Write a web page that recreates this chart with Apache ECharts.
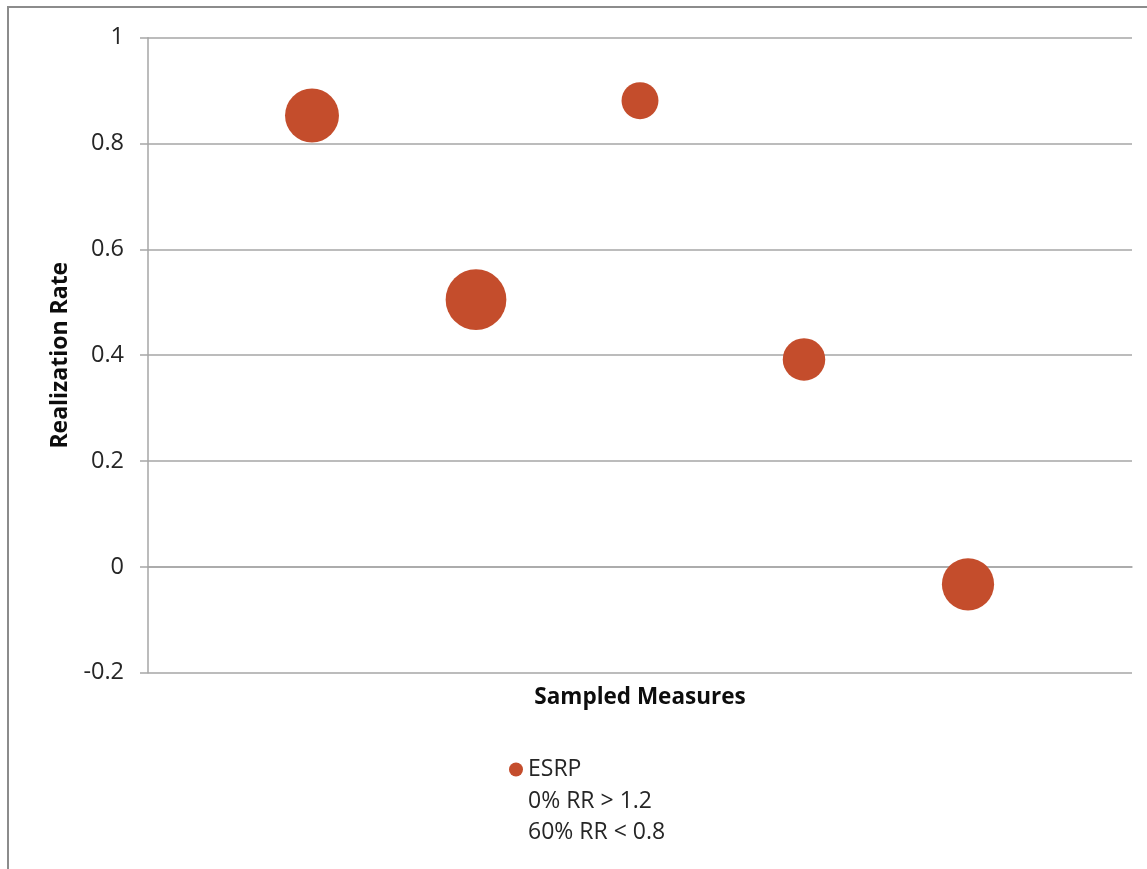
<!DOCTYPE html>
<html>
<head>
<meta charset="utf-8">
<script src="https://cdn.jsdelivr.net/npm/echarts@6/dist/echarts.min.js"></script>
<style>
html,body{margin:0;padding:0;background:#fff;}
#chart{width:1147px;height:869px;}
</style>
</head>
<body>
<div id="chart"></div>
<script>
// Data
const measureIndex = [1, 2, 3, 4, 5];
const realizationRate = [0.853, 0.505, 0.881, 0.392, -0.033];
const bubbleWeight = [0.79, 1.0, 0.37, 0.49, 0.74];
const seriesName = 'ESRP';
const legendNotes = ['0% RR > 1.2', '60% RR < 0.8'];
const yTicks = { min: -0.2, max: 1, interval: 0.2 };

const FONT = '"Open Sans", "Liberation Sans", sans-serif';
const chart = echarts.init(document.getElementById('chart'), null, { renderer: 'canvas' });

const bubbleData = measureIndex.map((x, i) => [x, realizationRate[i], bubbleWeight[i]]);

const option = {
  backgroundColor: '#ffffff',
  animation: false,
  graphic: [{
    type: 'rect',
    shape: { x: 8, y: 7, width: 1200, height: 900 },
    style: { fill: 'none', stroke: '#8c8c8c', lineWidth: 2 },
    silent: true
  }],
  grid: { left: 148, right: 15, top: 37.7, bottom: 196.3, containLabel: false },
  legend: {
    orient: 'vertical',
    left: 504,
    top: 751,
    itemWidth: 14,
    itemHeight: 14,
    itemGap: 4.5,
    selectedMode: false,
    data: [
      { name: seriesName, icon: 'circle' },
      { name: legendNotes[0], icon: 'none' },
      { name: legendNotes[1], icon: 'none' }
    ],
    textStyle: { fontFamily: FONT, fontSize: 23, color: '#262626', lineHeight: 27 }
  },
  xAxis: {
    type: 'value',
    min: 0,
    max: 6,
    interval: 1,
    name: 'Sampled Measures',
    nameLocation: 'middle',
    nameGap: 13,
    nameTextStyle: { fontFamily: FONT, fontSize: 22.5, fontWeight: 'bold', color: '#0d0d0d', verticalAlign: 'top' },
    axisLine: { show: true, lineStyle: { color: '#a6a6a6', width: 1.5 } },
    axisTick: { show: false },
    axisLabel: { show: false },
    splitLine: { show: false }
  },
  yAxis: {
    type: 'value',
    min: yTicks.min,
    max: yTicks.max,
    interval: yTicks.interval,
    name: 'Realization Rate',
    nameLocation: 'middle',
    nameGap: 76,
    nameRotate: 90,
    nameTextStyle: { fontFamily: FONT, fontSize: 23, fontWeight: 'bold', color: '#0d0d0d' },
    axisLine: { show: true, onZero: false, lineStyle: { color: '#a6a6a6', width: 1.5 } },
    axisTick: { show: true, inside: false, length: 8, lineStyle: { color: '#a6a6a6', width: 1.5 } },
    axisLabel: {
      margin: 24,
      fontFamily: FONT, fontSize: 23.5, color: '#262626',
      formatter: v => String(Math.round(v * 10) / 10)
    },
    splitLine: { show: true, lineStyle: { color: '#a6a6a6', width: 1.5 } }
  },
  series: [
    {
      name: seriesName,
      type: 'scatter',
      data: bubbleData,
      symbol: 'circle',
      symbolSize: d => 60.7 * Math.sqrt(d[2]),
      itemStyle: { color: '#c44d2c', opacity: 1 },
      z: 5
    },
    { name: legendNotes[0], type: 'scatter', data: [] },
    { name: legendNotes[1], type: 'scatter', data: [] }
  ]
};
chart.setOption(option);
</script>
</body>
</html>
